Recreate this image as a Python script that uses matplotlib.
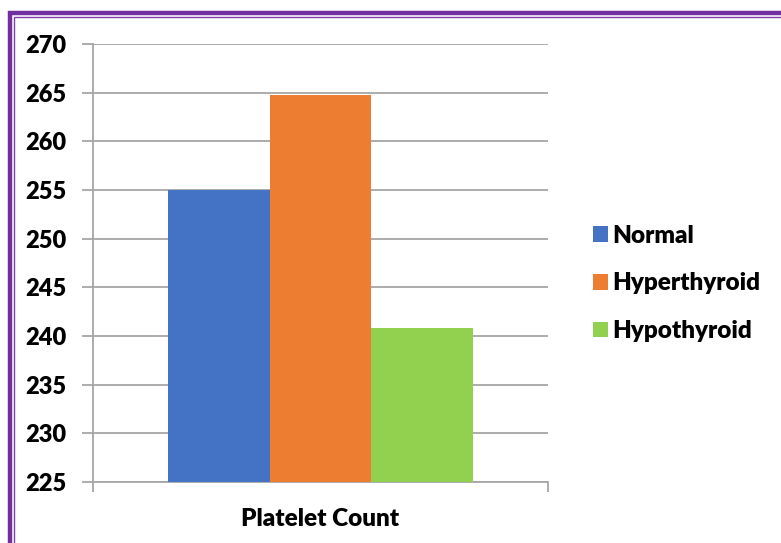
import matplotlib.pyplot as plt
from matplotlib.patches import Rectangle, Patch

# platelet count per group
groups = ["Normal", "Hyperthyroid", "Hypothyroid"]
platelets = [255.0, 264.8, 240.8]
colors = ["#4472C4", "#ED7D31", "#92D050"]
category = "Platelet Count"
yticks = [225, 230, 235, 240, 245, 250, 255, 260, 265, 270]

plt.rcParams['font.family'] = ['Lato', 'DejaVu Sans']
plt.rcParams['font.weight'] = 'heavy'

fig = plt.figure(figsize=(7.81, 5.43), dpi=100)
ax = fig.add_axes([0.119, 0.1123, 0.5827, 0.8067])

width = 0.2227
for i, (g, v, c) in enumerate(zip(groups, platelets, colors)):
    ax.bar((i - 1) * width, v - 225, bottom=225, width=width, color=c, label=g, zorder=3)

ax.set_xlim(-0.5, 0.5)
ax.set_ylim(225, 270)
ax.set_yticks(yticks)
ax.set_yticklabels([str(t) for t in yticks], fontsize=17, fontweight='heavy')
ax.yaxis.grid(True, color='#a6a6a6', linewidth=1.3, zorder=0)

ax.set_xticks([0])
ax.set_xticklabels([category], fontsize=17.5, fontweight='heavy')
ax.tick_params(axis='x', which='major', length=0, pad=19)
ax.set_xticks([-0.5, 0.5], minor=True)
ax.tick_params(axis='x', which='minor', length=7, color='#a6a6a6', width=1.3)
ax.tick_params(axis='y', length=8, color='#a6a6a6', width=1.3, pad=11)

for s in ['top', 'right']:
    ax.spines[s].set_visible(False)
for s in ['left', 'bottom']:
    ax.spines[s].set_color('#a6a6a6')
    ax.spines[s].set_linewidth(1.3)

handles = [Patch(facecolor=c, label=g) for g, c in zip(groups, colors)]
fig.legend(handles=handles, loc='center left', bbox_to_anchor=(0.731, 0.478),
           frameon=False, handlelength=0.62, handleheight=0.62,
           handletextpad=0.2, labelspacing=1.05, prop={'weight': 'heavy', 'size': 17.5})

# double purple frame
fig.patches.append(Rectangle((10 / 781, -0.05), 1.1, 1 - 13 / 543 + 0.05,
                             transform=fig.transFigure, fill=False,
                             edgecolor='#7030A0', linewidth=3.2, clip_on=False))
fig.patches.append(Rectangle((14 / 781, -0.05), 1.1, 1 - 17 / 543 + 0.05,
                             transform=fig.transFigure, fill=False,
                             edgecolor='#8040B0', linewidth=1.0, clip_on=False))

fig.savefig("out.png", dpi=100)
